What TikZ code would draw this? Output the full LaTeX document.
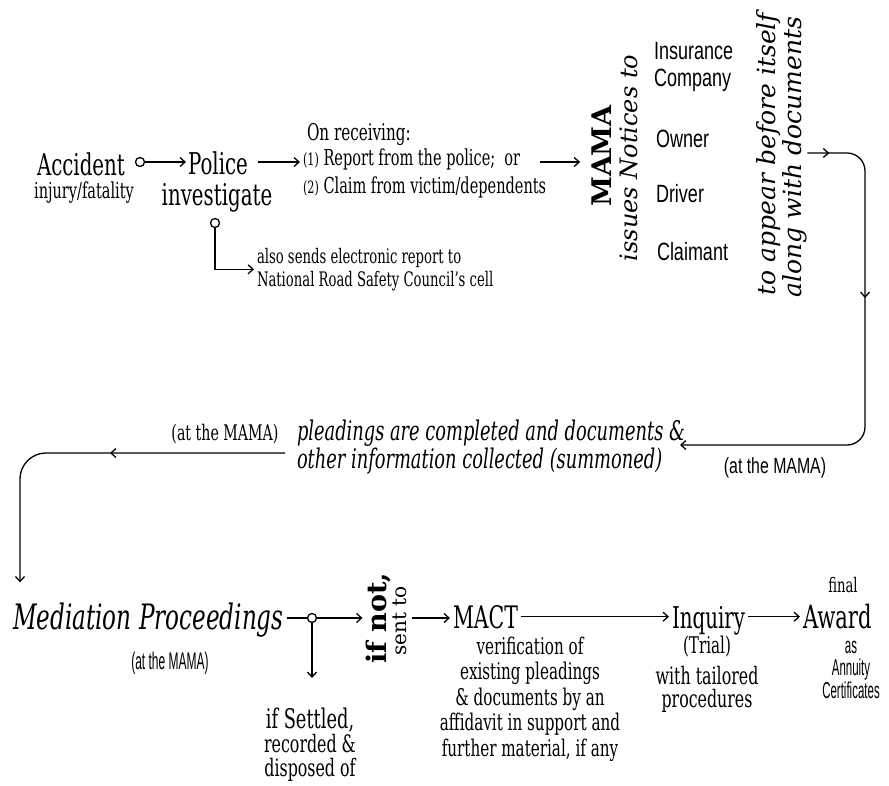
\documentclass[tikz,border=0pt]{standalone}
\usepackage{fontspec}
\setmainfont{DejaVu Serif}[FakeStretch=0.66]
\setsansfont{Liberation Sans}[FakeStretch=0.72]
\newfontfamily\vserif{DejaVu Serif}
\newfontfamily\sanscond{Liberation Sans}[FakeStretch=0.5]
\usetikzlibrary{arrows.meta,decorations.markings,calc}
\newcommand\fsz[2]{\fontsize{#1}{#2}\selectfont}
\begin{document}
\begin{tikzpicture}[x=1pt,y=-1pt, line width=1.3pt,
  >={Straight Barb[length=5pt,width=9pt]},
  txt/.style={inner sep=0pt, outer sep=0pt},
  dot/.style={circle, draw, line width=1.3pt, minimum size=9pt, inner sep=0pt},
  midmark/.style={postaction={decorate, decoration={markings, mark=at position #1 with {\arrow{>}}}}}
]
\fill[white] (0,0) rectangle (889,785);
\useasboundingbox (0,0) rectangle (889,785);

% --- top row ---
\node[txt, anchor=base west, font=\fsz{30}{32}] (acc) at (37,175) {Accident};
\node[txt, anchor=base, font=\fsz{22}{24}] (inj) at (84,198) {injury/fatality};
\node[dot] (c1) at (140,162) {};
\node[txt, anchor=base west, font=\fsz{30}{32}] (pol) at (188,174) {Police};
\node[txt, anchor=base, font=\fsz{30}{32}] (inv) at (217,205) {investigate};
\node[dot] (c2) at (215,223) {};
\node[txt, anchor=north west, align=left, font=\fsz{20}{23}] (nrsc) at (257,248) {also sends electronic report to\\National Road Safety Council's cell};

\node[txt, anchor=base west, font=\fsz{23}{25}] (onrec) at (307,140) {On receiving:};
\node[txt, anchor=base west, font=\fsz{22}{24}] (r1) at (303,165) {{\fsz{17}{20}(1)} Report from the police;\ \ or};
\node[txt, anchor=base west, font=\fsz{22}{24}] (r2) at (303,193) {{\fsz{17}{20}(2)} Claim from victim/dependents};

\node[txt, rotate=90, font=\vserif\bfseries\fsz{27}{29}] (mama) at (602,156) {MAMA};
\node[txt, rotate=90, font=\vserif\itshape\fsz{24}{26}] (iss) at (629,158) {issues Notices to};

\node[txt, anchor=north west, align=left, font=\sffamily\fsz{25}{27}] (ins) at (654,42) {Insurance\\Company};
\node[txt, anchor=base west, font=\sffamily\fsz{25}{27}] (own) at (656,147) {Owner};
\node[txt, anchor=base west, font=\sffamily\fsz{25}{27}] (drv) at (656,202) {Driver};
\node[txt, anchor=base west, font=\sffamily\fsz{25}{27}] (clm) at (657,260) {Claimant};

\node[txt, rotate=90, font=\vserif\itshape\fsz{25}{27}] (app) at (769,154) {to appear before itself};
\node[txt, rotate=90, font=\vserif\itshape\fsz{25}{27}] (alg) at (795,157) {along with documents};

% --- middle row ---
\node[txt, anchor=north west, align=left, font=\itshape\fsz{27}{28}] (plead) at (297,420) {pleadings are completed and documents \&\\other information collected (summoned)};
\node[txt, anchor=base, font=\sffamily\fsz{22}{24}] (atm1) at (775,473) {(at the MAMA)};
\node[txt, anchor=base, font=\fsz{21.5}{24}] (atm2) at (225,440) {(at the MAMA)};

% --- bottom row ---
\node[txt, anchor=base west, font=\itshape\fsz{35}{37}] (med) at (13,629) {Mediation Proceedings};
\node[txt, anchor=base, font=\sanscond\fsz{24}{26}] (atm3) at (170,669) {(at the MAMA)};
\node[dot] (c3) at (312,618) {};
\node[txt, rotate=90, font=\vserif\bfseries\fsz{27}{29}] (ifn) at (378,618) {if not,};
\node[txt, rotate=90, font=\vserif\fsz{20}{22}] (snt) at (400,621) {sent to};
\node[txt, anchor=base west, font=\fsz{31}{33}] (mact) at (453,628) {MACT};
\node[txt, anchor=base west, font=\fsz{30}{32}] (inq) at (672,628) {Inquiry};
\node[txt, anchor=base west, font=\fsz{32}{34}] (awd) at (803,628) {Award};
\node[txt, anchor=base, font=\fsz{20}{22}] (fin) at (843,592) {final};

\node[txt, anchor=north, align=center, font=\fsz{23}{25.5}] (ver) at (530,637) {verification of\\existing pleadings\\\& documents by an\\affidavit in support and\\further material, if any};
\node[txt, anchor=base, font=\fsz{23}{25}] (trl) at (707,653) {(Trial)};
\node[txt, anchor=north, align=center, font=\fsz{24}{23}] (tlr) at (707,666) {with tailored\\procedures};
\node[txt, anchor=north, align=center, font=\sanscond\fsz{23}{22.5}] (ann) at (851,641) {as\\Annuity\\Certificates};
\node[txt, anchor=north, align=center, font=\fsz{24}{24}] (set) at (310,708) {{\fsz{27}{28}if Settled,}\\recorded \&\\disposed of};

% --- connectors ---
\draw[->, shorten >=2pt] (c1.east) -- (pol.west |- c1);
\draw[->, shorten >=3pt] (c2.south) |- (nrsc.west);
\draw[->, shorten <=10pt, shorten >=3pt] (pol.east |- c1) -- (r1.west |- c1);
\draw[->, shorten <=20pt, shorten >=12pt] (r1.east |- c1) -- (mama.north |- c1);

\draw[->, rounded corners=18pt, midmark=22pt, midmark=195pt, shorten >=-5pt]
  (alg.south |- 0,153) -- (865,153) -- (865,445) -- (plead.east |- 0,445);

\draw[->, rounded corners=26pt, midmark=187pt, shorten <=12pt]
  (plead.west |- 0,453) -- (20,453) -- ($(med.north west)+(7,-20)$);

\draw[shorten <=3pt] (med.east |- c3) -- (c3.west);
\draw[->, shorten >=3pt] (c3.east) -- (ifn.north |- c3);
\draw[->, shorten >=30pt] (c3.south) -- (set.north -| c3);
\draw[->, shorten <=5pt, shorten >=3pt] (snt.south |- c3) -- (mact.west |- c3);
\draw[->, shorten <=3pt, shorten >=3pt] (mact.east) -- (inq.west |- mact.east);
\draw[->, shorten <=3pt, shorten >=3pt] (inq.east |- mact.east) -- (awd.west |- mact.east);
\end{tikzpicture}
\end{document}
